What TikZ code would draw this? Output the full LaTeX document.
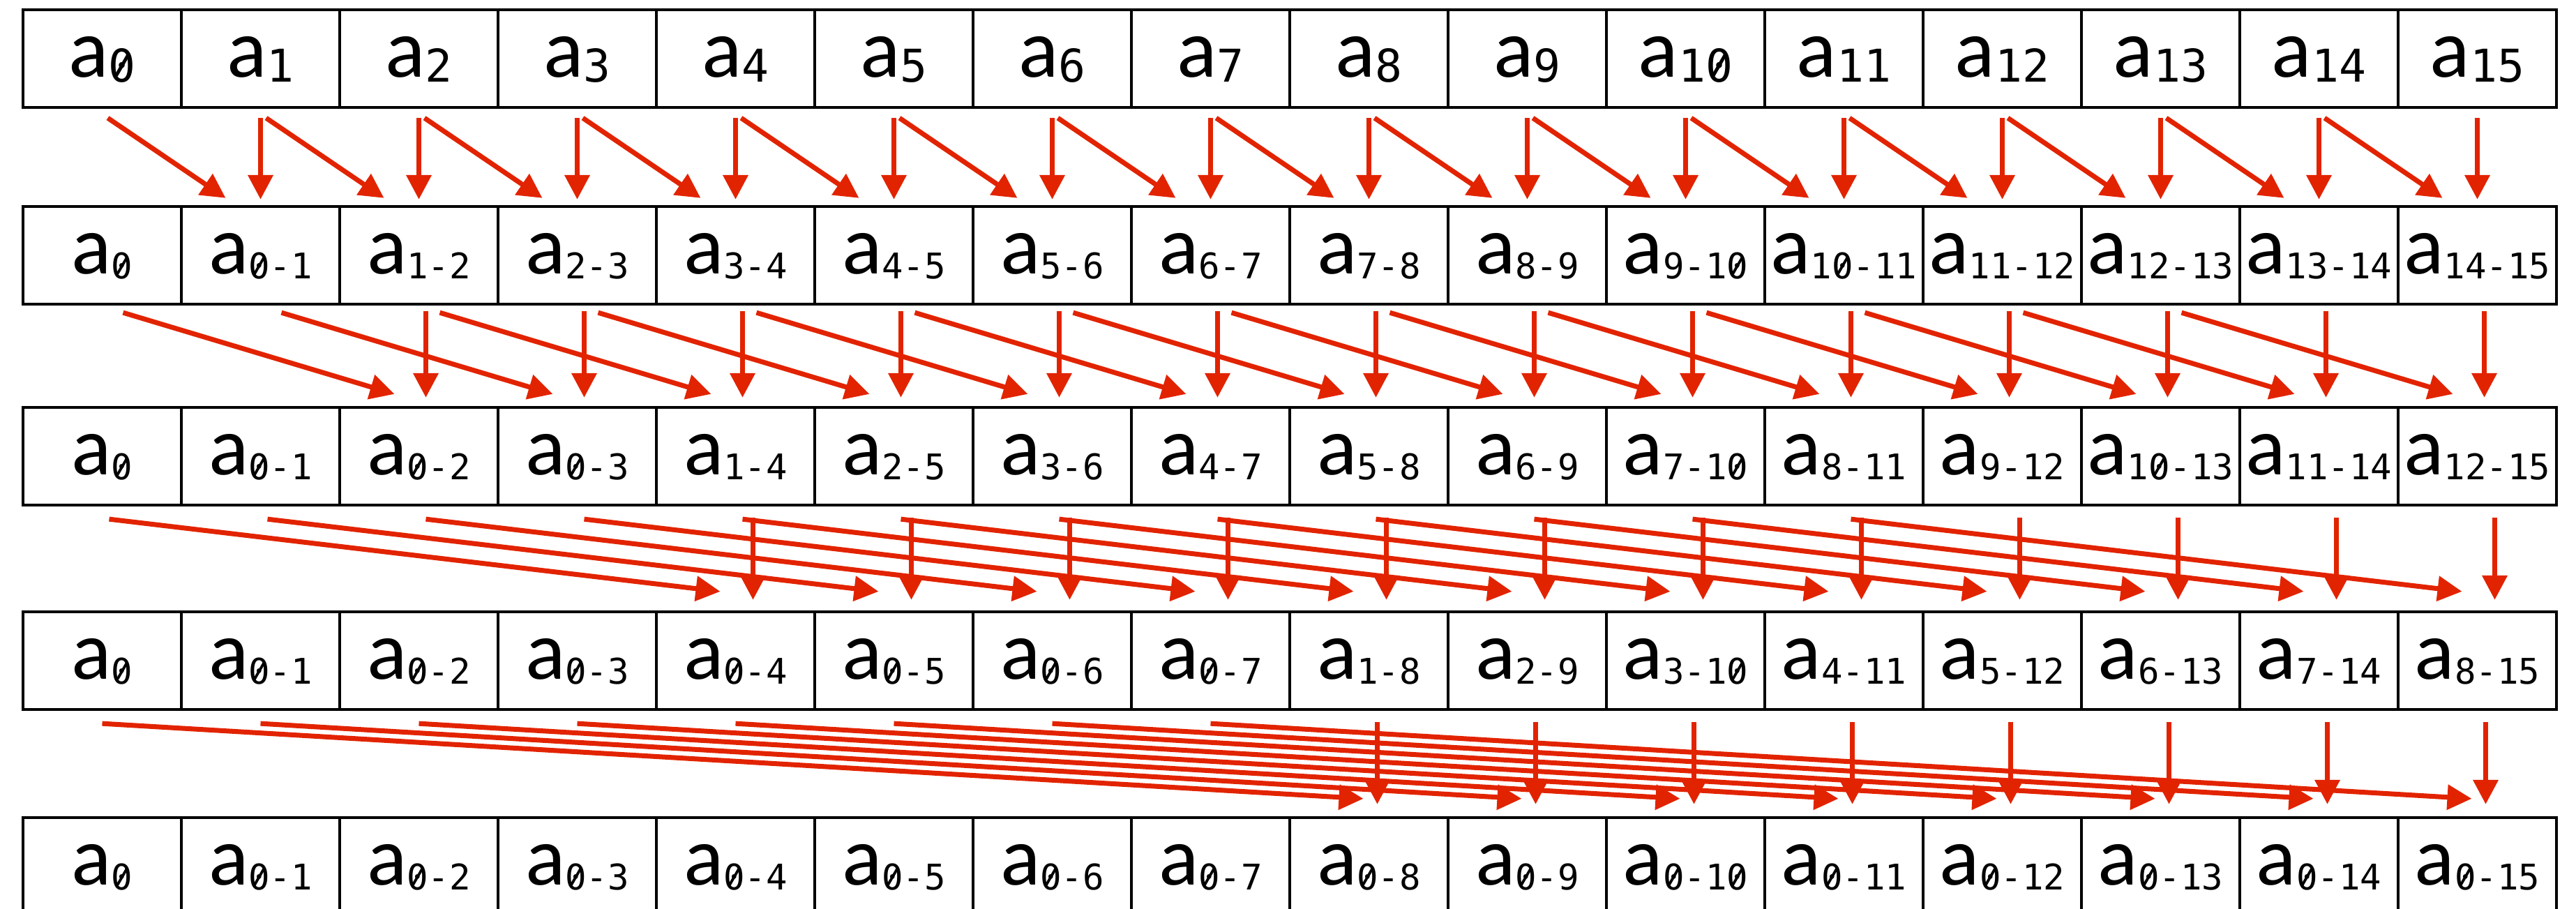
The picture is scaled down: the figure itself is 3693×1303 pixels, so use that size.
\documentclass[tikz,border=0pt]{standalone}
\usepackage{fontspec}
\setmainfont{Carlito}
\newfontfamily\subf{DejaVu Sans Mono}
\usetikzlibrary{arrows.meta}
\definecolor{arrred}{RGB}{226,35,0}
\newcommand\zs{\ooalign{0\cr\hidewidth\raisebox{0.13em}{\rotatebox{60}{\rule{0.52em}{0.075em}}}\hidewidth\cr}}
\newcommand\nm[1]{\ifnum#1=0 \zs\else\ifnum#1=10 1\zs\else#1\fi\fi}
\newcommand\subA[1]{\raisebox{-2.2pt}{\subf\fontsize{18.4pt}{20pt}\selectfont #1}}
\newcommand\subB[1]{\raisebox{-2.2pt}{\subf\fontsize{14.4pt}{16pt}\selectfont #1}}
\tikzset{
  cellbox/.style={draw, line width=1.2pt, minimum width=2.27cm, minimum height=1.4cm,
    inner sep=0pt, text height=16pt, text depth=1.2pt,
    font=\fontsize{34pt}{40pt}\selectfont},
  arr/.style={draw=arrred, line width=0.07cm, -{Triangle[length=0.35cm,width=0.35cm]}}
}
\begin{document}
\begin{tikzpicture}[x=0.01cm,y=-0.01cm]
\useasboundingbox (0,0) rectangle (3693,1303);
\clip (0,0) rectangle (3693,1303);
\foreach \r/\y in {1/84,2/366,3/654,4/947,5/1242}{
  \foreach \i in {0,...,15}{
    \pgfmathtruncatemacro\st{max(0,\i-2^(\r-1)+1)}
    \ifnum\r=1 \def\cellsub{\subA{\nm{\i}}}\else\ifnum\i=0 \def\cellsub{\subB{\zs}}\else\def\cellsub{\subB{\nm{\st}-\nm{\i}}}\fi\fi
    \node[cellbox] (c\r-\i) at ({146.5+227*\i},\y) {a\cellsub};
  }
}
\foreach \s/\sdx/\sdy/\tdx/\tdy/\vdx/\vsy/\vty in {1/8/13/-50/10/0/13/8, 2/30/10/-35/17/10/8/12, 3/10/18/-22/27/25/16/15, 4/0/18/-8/25/12/16/17}{
  \pgfmathtruncatemacro\d{2^(\s-1)}
  \pgfmathtruncatemacro\nx{\s+1}
  \foreach \i in {\d,...,15}{
    \pgfmathtruncatemacro\j{\i-\d}
    \draw[arr] ([xshift=\sdx*0.01cm, yshift=-\sdy*0.01cm]c\s-\j.south) -- ([xshift=\tdx*0.01cm, yshift=\tdy*0.01cm]c\nx-\i.north);
    \draw[arr] ([xshift=\vdx*0.01cm, yshift=-\vsy*0.01cm]c\s-\i.south) -- ([xshift=\vdx*0.01cm, yshift=\vty*0.01cm]c\nx-\i.north);
  }
}
\end{tikzpicture}
\end{document}
